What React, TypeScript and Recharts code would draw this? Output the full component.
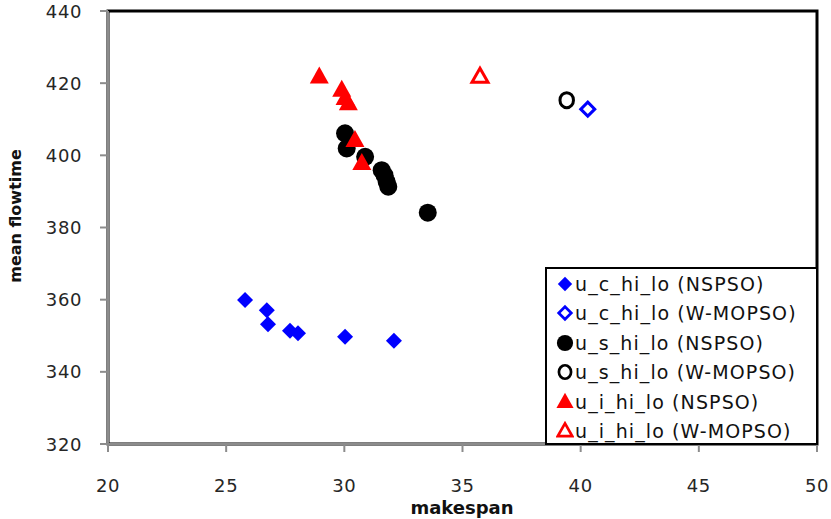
import { ScatterChart, Scatter, XAxis, YAxis, ReferenceArea } from "recharts"

// makespan / mean flowtime
const ucNspsoX = [25.8, 26.72, 26.77, 27.7, 28.04, 30.03, 32.1]
const ucNspsoY = [359.9, 357.1, 353.2, 351.4, 350.7, 349.7, 348.6]
const ucWmopsoX = [40.3]
const ucWmopsoY = [412.8]
const usNspsoX = [30.03, 30.1, 30.88, 31.58, 31.7, 31.79, 31.86, 33.53]
const usNspsoY = [406.1, 401.9, 399.6, 395.9, 394.5, 392.7, 391.3, 384.1]
const usWmopsoX = [39.41]
const usWmopsoY = [415.3]
const uiNspsoX = [28.94, 29.89, 30.03, 30.17, 30.45, 30.74]
const uiNspsoY = [421.8, 418.1, 415.8, 414.4, 404.2, 397.8]
const uiWmopsoX = [35.74]
const uiWmopsoY = [421.8]

const xTicks = [20, 25, 30, 35, 40, 45, 50]
const yTicks = [320, 340, 360, 380, 400, 420, 440]

const pts = (xs: number[], ys: number[]) => xs.map((x, i) => ({ x, y: ys[i] }))

type Kind = "diamond" | "circle" | "triangle"

interface SeriesDef {
    name: string
    kind: Kind
    filled: boolean
    color: string
    data: Array<{ x: number, y: number }>
}

const series: SeriesDef[] = [
    { name: "u_c_hi_lo (NSPSO)", kind: "diamond", filled: true, color: "#0000ff", data: pts(ucNspsoX, ucNspsoY) },
    { name: "u_c_hi_lo (W-MOPSO)", kind: "diamond", filled: false, color: "#0000ff", data: pts(ucWmopsoX, ucWmopsoY) },
    { name: "u_s_hi_lo (NSPSO)", kind: "circle", filled: true, color: "#000000", data: pts(usNspsoX, usNspsoY) },
    { name: "u_s_hi_lo (W-MOPSO)", kind: "circle", filled: false, color: "#000000", data: pts(usWmopsoX, usWmopsoY) },
    { name: "u_i_hi_lo (NSPSO)", kind: "triangle", filled: true, color: "#ff0000", data: pts(uiNspsoX, uiNspsoY) },
    { name: "u_i_hi_lo (W-MOPSO)", kind: "triangle", filled: false, color: "#ff0000", data: pts(uiWmopsoX, uiWmopsoY) },
]

const Marker = ({ cx, cy, kind, filled, color, scale = 1 }: { cx: number, cy: number, kind: Kind, filled: boolean, color: string, scale?: number }) => {
    const paint = filled
        ? { fill: color, stroke: "none" }
        : { fill: "#fff", stroke: color, strokeWidth: 3 * scale }
    if (kind === "diamond") {
        const r = (filled ? 8 : 7) * scale
        return <polygon points={`${cx},${cy - r} ${cx + r},${cy} ${cx},${cy + r} ${cx - r},${cy}`} {...paint} />
    }
    if (kind === "circle") {
        const r = (filled ? 9 : 7.5) * scale
        return <ellipse cx={cx} cy={cy} rx={filled ? r : r * 0.9} ry={r} {...paint} />
    }
    const h = (filled ? 17 : 14) * scale
    const w = (filled ? 19 : 16) * scale
    return <polygon points={`${cx},${cy - h * 0.6} ${cx + w / 2},${cy + h * 0.4} ${cx - w / 2},${cy + h * 0.4}`} {...paint} />
}

const tickStyle = { fontFamily: "DejaVu Sans", fontSize: 18, fill: "#262626", letterSpacing: 0.6 }

// y tick labels sit well left of the axis in the original
const YTick = (p: any) => (
    <text x={82} y={p.y} textAnchor="end" dominantBaseline="central" style={tickStyle}>{p.payload.value}</text>
)

const App = () => {
    return <div style={{ position: "absolute", left: 0, top: 0, width: 831, height: 519, background: "#fff" }}>
        <ScatterChart width={831} height={519} margin={{ top: 11, right: 14, bottom: 0, left: 0 }}>
            <ReferenceArea x1={20} x2={50} y1={320} y2={440} fill="none" stroke="#000" strokeWidth={3} />
            <XAxis type="number" dataKey="x" domain={[20, 50]} ticks={xTicks} height={75}
                stroke="#8c8c8c" strokeWidth={2} tickSize={8} tickMargin={27} tick={tickStyle}
                label={{
                    content: () => <text x={462} y={514} textAnchor="middle"
                        style={{ fontFamily: "DejaVu Sans", fontWeight: "bold", fontSize: 18, fill: "#111" }}>makespan</text>
                }} />
            <YAxis type="number" dataKey="y" domain={[320, 440]} ticks={yTicks} width={108}
                stroke="#8c8c8c" strokeWidth={2} tickSize={8} tick={YTick}
                label={{
                    content: () => <text x={21} y={216} transform="rotate(-90 21 216)" textAnchor="middle"
                        style={{ fontFamily: "DejaVu Sans", fontWeight: "bold", fontSize: 16, fill: "#111" }}>mean flowtime</text>
                }} />
            {series.map((s) => (
                <Scatter key={s.name} name={s.name} data={s.data} isAnimationActive={false}
                    shape={(p: any) => <Marker cx={p.cx} cy={p.cy} kind={s.kind} filled={s.filled} color={s.color} />} />
            ))}
        </ScatterChart>
        <div style={{
            position: "absolute", left: 545, top: 267, width: 273, height: 178, boxSizing: "border-box",
            border: "2px solid #000", background: "#fff"
        }}>
            {series.map((s, i) => (
                <div key={s.name} style={{ position: "absolute", left: 9, top: 2 + i * 29.4, height: 26, display: "flex", alignItems: "center" }}>
                    <svg width={18} height={20} style={{ display: "block" }}>
                        <Marker cx={9} cy={10} kind={s.kind} filled={s.filled} color={s.color} scale={0.9} />
                    </svg>
                    <span style={{ fontFamily: "DejaVu Sans", fontSize: 19, color: "#111", letterSpacing: 1.1, marginLeft: 1, whiteSpace: "nowrap" }}>{s.name}</span>
                </div>
            ))}
        </div>
    </div>
}

export default App
